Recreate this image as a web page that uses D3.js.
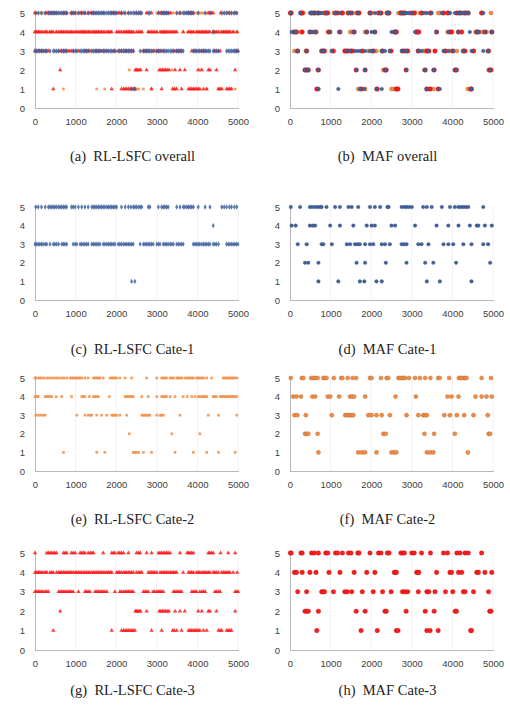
<!DOCTYPE html>
<html>
<head>
<meta charset="utf-8">
<script src="https://cdn.jsdelivr.net/npm/d3@7/dist/d3.min.js"></script>
<style>
  body { margin: 0; background: #fff; }
</style>
</head>
<body>
<svg id="fig" width="510" height="713"></svg>
<script>
// x positions of the points on each level
// RL-LSFC, Cate-1 (blue)
const rlC1_5 = [20,80,160,250,330,370,410,450,490,530,580,620,660,700,740,780,900,940,990,1070,1150,1230,1310,1400,1440,1480,1520,1560,1600,1640,1680,1720,1770,1810,1850,1890,1930,1970,2010,2130,2220,2300,2360,2420,2460,2500,2550,2590,2630,2790,2830,3040,3120,3160,3200,3240,3280,3490,3570,3650,3690,3740,3780,3820,3860,3900,4020,4190,4310,4600,4660,4720,4790,4840,4910,4970];
const rlC1_4 = [4390];
const rlC1_3 = [0,40,80,120,160,200,250,290,370,450,490,530,580,660,700,740,780,940,990,1030,1110,1150,1190,1230,1270,1310,1400,1440,1480,1520,1560,1600,1680,1720,1770,1810,1850,1890,1930,1970,2050,2090,2130,2180,2220,2260,2300,2340,2380,2420,2590,2670,2710,2750,2790,2830,2870,2910,3000,3040,3080,3160,3200,3240,3280,3330,3370,3410,3490,3530,3570,3610,3650,3900,3940,3980,4020,4060,4110,4150,4190,4230,4270,4310,4390,4430,4470,4520,4720,4760,4800,4840,4880,4920,4960,5000];
const rlC1_2 = [];
const rlC1_1 = [2380,2460];

// RL-LSFC, Cate-2 (orange)
const rlC2_5 = [0,60,110,160,220,290,350,410,470,530,590,660,710,780,860,900,940,990,1030,1070,1110,1150,1230,1310,1440,1480,1520,1560,1600,1680,1850,1890,1930,1970,2010,2090,2220,2380,2750,3000,3120,3160,3200,3240,3330,3370,3410,3490,3530,3570,3610,3690,3740,3780,3820,3860,3900,3980,4020,4060,4110,4150,4230,4350,4640,4680,4720,4760,4800,4840,4880,4920,4970];
const rlC2_4 = [0,40,80,250,290,330,370,410,520,660,900,1150,1190,1230,1340,1440,1480,1520,1560,1830,2220,2260,2300,2340,2380,2420,2630,2790,3000,3120,3160,3200,3240,3330,3450,3650,3750,3860,3940,4020,4060,4110,4150,4190,4230,4390,4430,4470,4560,4600,4640,4680,4720,4760,4800,4840,4880,4920,4970];
const rlC2_3 = [20,80,140,200,250,1030,1230,1310,1360,1400,1520,1640,1770,1890,1930,1970,2010,2090,2260,2630,2670,2710,2750,2790,2830,3000,3080,3120,3160,3570,4270,4520,4970];
const rlC2_2 = [2320,3370,4060];
const rlC2_1 = [700,1520,1720,2420,2460,2500,2550,2670,2870,3450,3900,4230,4520,4930];

// RL-LSFC, Cate-3 (red)
const rlC3_5 = [0,290,330,370,410,450,490,530,700,740,780,900,940,990,1110,1150,1190,1230,1310,1360,1400,1440,1680,1890,1930,1970,2050,2090,2130,2180,2300,2500,2550,2590,2750,2870,3040,3080,3120,3160,3200,3240,3280,3330,3570,3750,3780,3820,3860,3900,4270,4310,4350,4390,4570,4760,4930];
const rlC3_4 = [0,40,80,120,160,200,250,290,370,410,450,530,580,620,660,700,740,780,820,860,900,940,990,1030,1070,1110,1150,1190,1230,1270,1310,1350,1400,1440,1480,1520,1560,1600,1640,1680,1720,1770,1810,1850,1890,2010,2050,2090,2130,2180,2220,2260,2300,2340,2380,2420,2500,2550,2590,2630,2790,2830,2870,2910,2950,3000,3080,3120,3160,3200,3240,3280,3330,3370,3410,3450,3490,3650,3780,3820,3860,3900,3980,4020,4060,4110,4150,4190,4230,4270,4310,4390,4430,4470,4520,4600,4640,4680,4720,4760,4800,4880,4980];
const rlC3_3 = [0,40,80,120,160,200,250,290,330,580,620,660,700,740,780,820,860,900,940,1070,1230,1270,1310,1350,1480,1520,1560,1600,1640,1680,1720,1770,1970,2090,2130,2180,2220,2260,2300,2340,2380,2420,2670,2710,2750,2790,2910,2950,3000,3040,3080,3120,3160,3410,3450,3490,3530,3570,3610,3860,3900,3940,3980,4060,4110,4150,4190,4430,4470,4520,4560,4930,4970,5000];
const rlC3_2 = [620,2470,2500,2530,2570,2600,2750,3060,3100,3140,3180,3220,3260,3300,3450,3570,3690,4020,4110,4270,4310,4470,4930];
const rlC3_1 = [450,1890,2130,2180,2220,2260,2300,2340,2380,2420,2460,2870,3120,3390,3430,3490,3610,3780,3820,3860,3900,3940,3980,4020,4060,4150,4230,4520,4560,4600,4720,4760,4800,4840];

// MAF, Cate-1 (blue)
const mafC1_5 = [20,250,490,550,620,680,740,780,900,1110,1230,1440,1520,1680,1970,2090,2220,2400,2430,2750,2820,2870,2930,3000,3280,3370,3490,3740,3940,4060,4150,4210,4270,4330,4390,4760];
const mafC1_4 = [40,140,490,560,620,990,1230,1560,1890,2010,2090,2500,2590,3080,3610,3900,4150,4430,4600,4640,4800,4970];
const mafC1_3 = [190,410,780,820,1030,1400,1480,1600,1660,1720,1850,1970,2050,2260,2340,2460,2750,2810,2870,3160,3240,3410,3780,3900,4020,4270,4470,4760,4880];
const mafC1_2 = [370,450,700,1640,1850,2360,2870,3330,3530,4090,4930];
const mafC1_1 = [700,1190,1720,1830,2130,2260,3370,3690,4470];

// MAF, Cate-2 (orange)
const mafC2_5 = [20,290,330,520,580,620,680,820,860,900,1080,1260,1290,1420,1540,1630,1970,2010,2240,2380,2420,2670,2710,2750,2790,2830,2930,3080,3200,3330,3460,3650,3690,3920,4160,4200,4240,4280,4320,4350,4720,4950];
const mafC2_4 = [80,160,270,550,620,930,990,1210,1480,1530,1580,1850,2600,3100,3880,3980,4150,4570,4720,4840,4970];
const mafC2_3 = [110,180,390,1030,1360,1400,1440,1480,1520,1560,1930,2010,2130,2260,2460,2870,3160,3280,3330,3370,3800,3940,4110,4290,4520,4870];
const mafC2_2 = [370,410,450,680,2300,2360,3310,3550,4060,4890,4930];
const mafC2_1 = [700,1680,1770,1850,2130,2500,2560,2620,3370,3450,3530,4380];

// MAF, Cate-3 (red)
const mafC3_5 = [10,30,270,300,530,600,700,880,930,1120,1170,1290,1440,1500,1670,1700,1970,2180,2240,2400,2440,2730,2780,2820,3000,3060,3240,3460,3780,3880,4110,4190,4310,4390,4720];
const mafC3_4 = [110,160,300,490,640,960,1230,1580,1890,2090,2570,2600,2620,3120,3150,3170,3610,3940,3980,4150,4230,4600,4640,4800,4970];
const mafC3_3 = [190,410,780,820,850,1070,1350,1410,1520,1780,2050,2280,2490,2770,2830,2900,3160,3370,3420,3570,3830,4010,4270,4310,4520,4890];
const mafC3_2 = [370,410,450,700,1630,1850,2340,2370,2860,3330,3550,4070,4100,4920,4950];
const mafC3_1 = [660,1750,2150,2620,2660,3370,3450,3650,4450,4470];

const xTicks = [0, 1000, 2000, 3000, 4000, 5000];
const yTicks = [0, 1, 2, 3, 4, 5];
const captions = [
  '(a)\u2002RL-LSFC overall', '(b)\u2002MAF overall',
  '(c)\u2002RL-LSFC Cate-1', '(d)\u2002MAF Cate-1',
  '(e)\u2002RL-LSFC Cate-2', '(f)\u2002MAF Cate-2',
  '(g)\u2002RL-LSFC Cate-3', '(h)\u2002MAF Cate-3'
];

// 每个类别按 level 1..5 排列
const rl = [
  [rlC1_1, rlC1_2, rlC1_3, rlC1_4, rlC1_5],
  [rlC2_1, rlC2_2, rlC2_3, rlC2_4, rlC2_5],
  [rlC3_1, rlC3_2, rlC3_3, rlC3_4, rlC3_5]
];
const maf = [
  [mafC1_1, mafC1_2, mafC1_3, mafC1_4, mafC1_5],
  [mafC2_1, mafC2_2, mafC2_3, mafC2_4, mafC2_5],
  [mafC3_1, mafC3_2, mafC3_3, mafC3_4, mafC3_5]
];

const colors = ['#41629e', '#f28c42', '#ff1a1a'];
const rlSymbols = [d3.symbolDiamond, d3.symbolSquare, d3.symbolTriangle];
const rlSizes = [8, 7, 8];
const mafRadius = [1.8, 2.1, 2.3];

// panel geometry
const colX = [[35, 238], [290, 493]];
const rowY = [[108, 13], [300, 207], [471, 378], [650, 553]];
const captionY = [161, 354, 524, 695];

const svg = d3.select('#fig');

// soft edges, like the downscaled original
const defs = svg.append('defs');
defs.append('filter')
  .attr('id', 'soft')
  .attr('x', '-20%').attr('y', '-50%')
  .attr('width', '140%').attr('height', '200%')
  .append('feGaussianBlur')
  .attr('stdDeviation', 0.6);

// draw order: orange, red, blue on top
const drawOrder = [1, 2, 0];

function panel(idx, method, cats) {
  const col = idx % 2, row = Math.floor(idx / 2);
  const x = d3.scaleLinear().domain([0, 5000]).range(colX[col]);
  const y = d3.scaleLinear().domain([0, 5]).range(rowY[row]);
  const g = svg.append('g').attr('class', 'panel');

  // faint vertical gridlines
  g.append('g').selectAll('line')
    .data(xTicks.slice(1))
    .join('line')
    .attr('x1', d => x(d)).attr('x2', d => x(d))
    .attr('y1', y(0)).attr('y2', y(5) - 2)
    .attr('stroke', '#f2f2f2')
    .attr('stroke-width', 1);

  // x axis
  const xAxis = g.append('g')
    .attr('transform', `translate(0,${y(0)})`)
    .call(d3.axisBottom(x).tickValues(xTicks).tickFormat(d3.format('d')).tickSize(0).tickPadding(10));
  xAxis.select('.domain').attr('stroke', '#b8b8b8').attr('d', `M${x(0)},0.5H${x(5000) + 1}`);

  // y axis
  const yAxis = g.append('g')
    .attr('transform', `translate(${x(0)},0)`)
    .call(d3.axisLeft(y).tickValues(yTicks).tickFormat(d3.format('d')).tickSize(0).tickPadding(10));
  yAxis.select('.domain').attr('stroke', '#b8b8b8').attr('d', `M0.5,${y(0)}V${y(5) - 2}`);

  g.selectAll('.tick text')
    .attr('font-family', 'Liberation Sans, Arial, sans-serif')
    .attr('font-size', 9.5)
    .attr('fill', '#404040');

  const pts = g.append('g').attr('filter', 'url(#soft)');
  cats.forEach(c => {
    const rows = method === 'rl' ? rl[c] : maf[c];
    const data = rows.flatMap((arr, k) => arr.map(v => ({ x: v, y: k + 1 })));
    const sel = pts.append('g').selectAll('path')
      .data(data)
      .join('path')
      .attr('transform', d => `translate(${x(d.x)},${y(d.y)})`)
      .attr('fill', colors[c]);
    if (method === 'rl') {
      sel.attr('d', d3.symbol().type(rlSymbols[c]).size(rlSizes[c]))
        .attr('fill-opacity', 0.85);
    } else {
      sel.attr('d', d3.symbol().type(d3.symbolCircle).size(Math.PI * mafRadius[c] * mafRadius[c]))
        .attr('stroke', d3.color(colors[c]).darker(1.2))
        .attr('stroke-width', 0.5)
        .attr('stroke-opacity', 0.6);
    }
  });

  // caption
  svg.append('text')
    .attr('x', (colX[col][0] + colX[col][1]) / 2 - 4)
    .attr('y', captionY[row])
    .attr('text-anchor', 'middle')
    .attr('font-family', 'Liberation Serif, Times New Roman, serif')
    .attr('font-size', 14.5)
    .attr('fill', '#222')
    .text(captions[idx]);
}

panel(0, 'rl', drawOrder);
panel(1, 'maf', drawOrder);
panel(2, 'rl', [0]);
panel(3, 'maf', [0]);
panel(4, 'rl', [1]);
panel(5, 'maf', [1]);
panel(6, 'rl', [2]);
panel(7, 'maf', [2]);
</script>
</body>
</html>
